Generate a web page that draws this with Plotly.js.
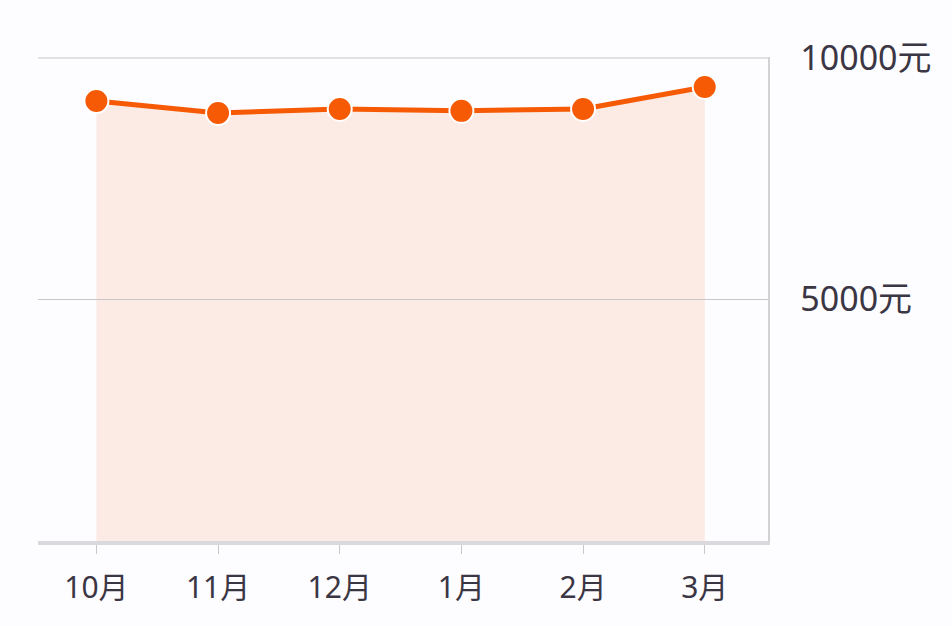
<!DOCTYPE html>
<html>
<head>
<meta charset="utf-8">
<script src="https://cdn.plot.ly/plotly-3.0.1.min.js"></script>
<style>
  html, body { margin: 0; padding: 0; background: #fdfcfe; }
  #chart { width: 952px; height: 626px; }
</style>
</head>
<body>
<div id="chart"></div>
<script>
// Monthly values (元)
const months = ['10月', '11月', '12月', '1月', '2月', '3月'];
const amounts = [9110, 8860, 8945, 8905, 8945, 9400];
const yTickVals = [5000, 10000];
const yTickText = ['5000元', '10000元'];

const orange = '#f65a05';
const textColor = '#3b3644';

const traces = [{
  x: months,
  y: amounts,
  type: 'scatter',
  mode: 'lines+markers',
  fill: 'tozeroy',
  fillcolor: '#fbebe4',
  line: { color: orange, width: 5 },
  marker: { color: orange, size: 24, line: { color: '#ffffff', width: 2 } },
  hoverinfo: 'x+y'
}];

// gridlines drawn as shapes so they sit above the filled area
const gridShapes = yTickVals.map(v => ({
  type: 'line',
  xref: 'paper', x0: 0, x1: 1,
  yref: 'y', y0: v, y1: v,
  layer: 'above',
  line: { color: '#c8c6cc', width: 1 }
}));

const layout = {
  width: 952,
  height: 626,
  paper_bgcolor: '#fdfcfe',
  plot_bgcolor: '#fdfcfe',
  font: { family: 'Noto Sans, Noto Sans CJK SC, sans-serif', color: textColor },
  margin: { t: 57, b: 85, l: 38, r: 184 },
  showlegend: false,
  shapes: gridShapes,
  xaxis: {
    type: 'category',
    range: [-0.48, 5.52],
    showgrid: false,
    zeroline: false,
    showline: true,
    linecolor: '#dadade',
    linewidth: 4,
    layer: 'above traces',
    ticks: 'outside',
    ticklen: 9,
    tickwidth: 1,
    tickcolor: '#c9c9cd',
    ticklabelstandoff: 8,
    tickfont: { size: 30, color: textColor }
  },
  yaxis: {
    side: 'right',
    range: [0, 10020],
    layer: 'above traces',
    tickmode: 'array',
    tickvals: yTickVals,
    ticktext: yTickText,
    showgrid: false,
    zeroline: false,
    showline: true,
    linecolor: '#d2d1d6',
    linewidth: 1.5,
    ticks: '',
    ticklabelstandoff: 24,
    tickfont: { size: 34, color: textColor }
  }
};

Plotly.newPlot('chart', traces, layout, { displayModeBar: false, staticPlot: true });
</script>
</body>
</html>
